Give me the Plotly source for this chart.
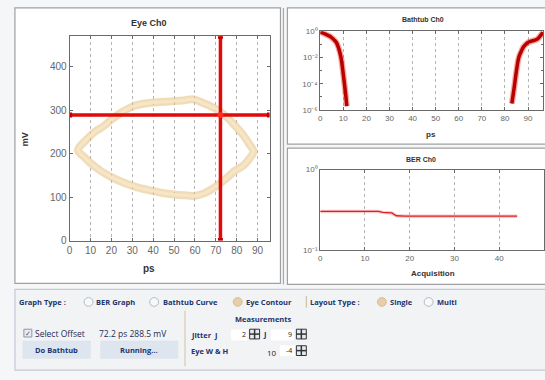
import plotly.graph_objects as go

# ---------------- data ----------------
# eye contour (closed loop: upper edge left->right, lower edge right->left)
eye_ps = [4, 8, 12, 16, 20, 25, 30, 36, 42, 48, 54, 59, 63, 67, 71, 75, 79, 83, 86, 88,
          86, 83, 79, 75, 71, 68, 64, 60, 55, 50, 44, 38, 32, 26, 20, 15, 10, 7, 4]
eye_mv = [208, 232, 250, 262, 278, 295, 308, 315, 318, 320, 322, 325, 318, 310, 300, 285, 265, 243, 222, 205,
          188, 172, 160, 143, 128, 118, 108, 103, 104, 106, 110, 116, 123, 133, 146, 160, 178, 192, 208]

offset_ps = 72.2
offset_mv = 288.5

# bathtub curve, left and right walls
tub_left_ps = [0, 1, 2, 3, 4, 5, 6, 7, 8, 9, 10, 11, 11.5]
tub_left_ber = [0.85, 0.76, 0.63, 0.52, 0.43, 0.32, 0.22, 0.14, 0.05, 0.01, 5e-4, 1.6e-5, 2e-6]
tub_right_ps = [83, 84, 85, 86, 87, 88, 89, 90, 91, 92, 93, 94, 95, 96.5]
tub_right_ber = [3.2e-6, 5e-5, 1e-3, 1e-2, 2.8e-2, 6.3e-2, 0.1, 0.14, 0.166, 0.19, 0.21, 0.25, 0.38, 0.83]

# BER per acquisition
acq = list(range(45))
ber = [0.303, 0.303, 0.303, 0.303, 0.303, 0.303, 0.303, 0.303, 0.303, 0.303,
       0.303, 0.303, 0.303, 0.303, 0.295, 0.295, 0.29, 0.268, 0.265, 0.265,
       0.265, 0.265, 0.265, 0.265, 0.265, 0.265, 0.265, 0.265, 0.265, 0.265,
       0.265, 0.265, 0.265, 0.265, 0.265, 0.265, 0.265, 0.265, 0.265, 0.265,
       0.265, 0.265, 0.265, 0.265, 0.265]

eye_xticks = [0, 10, 20, 30, 40, 50, 60, 70, 80, 90]
eye_yticks = [0, 100, 200, 300, 400]
tub_yticks = [1e-6, 1e-4, 1e-2, 1]
tub_ytext = ["10⁻⁶", "10⁻⁴", "10⁻²", "10⁰"]
ber_xticks = [0, 10, 20, 30, 40, 50]
ber_yticks = [0.1, 1]
ber_ytext = ["10⁻¹", "10⁰"]

# ---------------- layout helpers ----------------
W, H = 545, 380


def fx(p):
    return p / W


def fy(p):
    return 1 - p / H


FONT = "Liberation Sans, Arial, sans-serif"
UI_FONT = "Open Sans, sans-serif"
NAVY = "#22346a"
TICK = "#666666"

fig = go.Figure()

# eye contour: soft tan band with a lighter core
fig.add_trace(go.Scatter(x=eye_ps, y=eye_mv, mode="lines", xaxis="x", yaxis="y",
                         line=dict(color="rgba(230,192,130,0.55)", width=8, shape="spline"),
                         hoverinfo="skip"))
fig.add_trace(go.Scatter(x=eye_ps, y=eye_mv, mode="lines", xaxis="x", yaxis="y",
                         line=dict(color="rgba(247,230,198,0.95)", width=3, shape="spline"),
                         hoverinfo="skip"))
# offset crosshair
fig.add_trace(go.Scatter(x=[offset_ps, offset_ps], y=[0, 470], mode="lines+markers", xaxis="x", yaxis="y",
                         line=dict(color="#e00a0a", width=3.5), marker=dict(color="#c00000", size=5, symbol="square")))
fig.add_trace(go.Scatter(x=[0, 95.7], y=[offset_mv, offset_mv], mode="lines+markers", xaxis="x", yaxis="y",
                         line=dict(color="#e00a0a", width=3.5), marker=dict(color="#c00000", size=5, symbol="square")))
fig.add_trace(go.Scatter(x=[offset_ps], y=[offset_mv], mode="markers", xaxis="x", yaxis="y",
                         marker=dict(color="#ff2a2a", size=6)))

# bathtub walls
for xs, ys in ((tub_left_ps, tub_left_ber), (tub_right_ps, tub_right_ber)):
    fig.add_trace(go.Scatter(x=xs, y=ys, mode="lines", xaxis="x2", yaxis="y2",
                             line=dict(color="rgba(240,60,40,0.45)", width=6, shape="spline"),
                             hoverinfo="skip"))
    fig.add_trace(go.Scatter(x=xs, y=ys, mode="lines", xaxis="x2", yaxis="y2",
                             line=dict(color="#b80000", width=3.5, shape="spline")))

# BER history
fig.add_trace(go.Scatter(x=acq, y=ber, mode="lines", xaxis="x3", yaxis="y3",
                         line=dict(color="rgba(240,120,130,0.4)", width=3.5), hoverinfo="skip"))
fig.add_trace(go.Scatter(x=acq, y=ber, mode="lines", xaxis="x3", yaxis="y3",
                         line=dict(color="#e02020", width=1.3)))

axis_common = dict(showline=True, linecolor="#6a6a6a", linewidth=1, mirror="ticks",
                   ticks="inside", ticklen=3, tickcolor="#6a6a6a", zeroline=False, fixedrange=True)

fig.update_layout(
    width=W, height=H, autosize=False,
    margin=dict(l=0, r=0, t=0, b=0),
    paper_bgcolor="#f4f6f8", plot_bgcolor="white",
    showlegend=False,
    xaxis=dict(domain=[fx(67), fx(268)], range=[0, 95.7], tickvals=eye_xticks,
               showgrid=True, gridcolor="#b5b5b5", griddash="dot", gridwidth=1,
               tickfont=dict(family=FONT, size=10, color=TICK), anchor="y", **axis_common),
    yaxis=dict(domain=[fy(243), fy(33)], range=[0, 470], tickvals=eye_yticks, showgrid=False,
               tickfont=dict(family=FONT, size=10, color=TICK), anchor="x", **axis_common),
    xaxis2=dict(domain=[fx(319), fx(543)], range=[0, 96.5], tickvals=eye_xticks,
                showgrid=True, gridcolor="#b5b5b5", griddash="dot", gridwidth=1,
                tickfont=dict(family=FONT, size=8, color=TICK), anchor="y2", **axis_common),
    yaxis2=dict(domain=[fy(109), fy(28)], type="log", range=[-6, 0], tickvals=tub_yticks,
                ticktext=tub_ytext, showgrid=False,
                minor=dict(tickvals=[1e-5, 1e-3, 1e-1], ticks="inside", ticklen=2, tickcolor="#6a6a6a"),
                tickfont=dict(family=FONT, size=8, color=TICK), anchor="x2", **axis_common),
    xaxis3=dict(domain=[fx(319), fx(544)], range=[0, 50], tickvals=ber_xticks,
                showgrid=True, gridcolor="#b5b5b5", griddash="dot", gridwidth=1,
                tickfont=dict(family=FONT, size=8, color=TICK), anchor="y3", **axis_common),
    yaxis3=dict(domain=[fy(253), fy(170)], type="log", range=[-1, 0], tickvals=ber_yticks,
                ticktext=ber_ytext, showgrid=False,
                tickfont=dict(family=FONT, size=8, color=TICK), anchor="x3", **axis_common),
)

shapes = []
annotations = []


def rect(x0, y0, x1, y1, fill="rgba(0,0,0,0)", line="#a0a0a0", width=1.2, layer="below"):
    shapes.append(dict(type="rect", xref="paper", yref="paper", x0=fx(x0), x1=fx(x1), y0=fy(y1), y1=fy(y0),
                       fillcolor=fill, line=dict(color=line, width=width), layer=layer))


def line(x0, y0, x1, y1, color="#a0a0a0", width=1, layer="above"):
    shapes.append(dict(type="line", xref="paper", yref="paper", x0=fx(x0), x1=fx(x1), y0=fy(y0), y1=fy(y1),
                       line=dict(color=color, width=width), layer=layer))


def circle(cx, cy, r, fill, edge):
    shapes.append(dict(type="circle", xref="paper", yref="paper", x0=fx(cx - r), x1=fx(cx + r),
                       y0=fy(cy + r), y1=fy(cy - r), fillcolor=fill, line=dict(color=edge, width=1),
                       layer="above"))


def text(x, y, s, size=8, color=NAVY, bold=True, xanchor="left", family=UI_FONT, angle=0):
    # annotations carry a few px of padding; shift left-anchored labels to compensate
    if xanchor == "left":
        x -= 3
    annotations.append(dict(xref="paper", yref="paper", x=fx(x), y=fy(y), text=f"<b>{s}</b>" if bold else s,
                            showarrow=False, xanchor=xanchor, yanchor="middle", textangle=angle,
                            font=dict(family=family, size=size, color=color)))


def spinner(x, y):
    rect(x, y - 5, x + 10, y + 5, fill="#e6ebf2", line="#333333", width=1, layer="above")
    line(x + 5, y - 5, x + 5, y + 5, color="#333333", width=1.5)
    line(x, y, x + 10, y, color="#333333", width=1.5)


# chart panels
rect(12, 4, 279, 287, fill="white")
line(282, 4, 282, 288, color="#a8a8a8", width=1.2)
rect(286, 4, 549, 144, fill="white")
rect(286, 148, 549, 288, fill="white")

# chart titles and axis labels
text(147, 19, "Eye Ch0", size=9, color="#333333", xanchor="center", family=FONT)
text(22, 139, "mV", size=9, color="#333333", xanchor="center", family=FONT, angle=-90)
text(147, 272, "ps", size=10, color="#333333", xanchor="center", family=FONT)
text(422, 16, "Bathtub Ch0", size=7, color="#333333", xanchor="center", family=FONT)
text(430, 134, "ps", size=8, color="#333333", xanchor="center", family=FONT)
text(420, 160, "BER Ch0", size=7, color="#333333", xanchor="center", family=FONT)
text(432, 277, "Acquisition", size=8, color="#333333", xanchor="center", family=FONT)

# control panel
rect(12, 293, 549, 376, fill="#f2f3f5", line="#c3cad4", width=1.2)
row1 = 306
text(17, row1, "Graph Type :", size=7.5)
circle(86, row1, 4.5, "#f7f8fa", "#b4bcc8")
text(95, row1, "BER Graph", size=7.5)
circle(152, row1, 4.5, "#f7f8fa", "#b4bcc8")
text(162, row1, "Bathtub Curve", size=7.5)
circle(236, row1, 4.5, "#e6cfa8", "#d6bf98")
text(245, row1, "Eye Contour", size=7.5)
line(305, row1 - 6, 305, row1 + 6, color="#c8b89a", width=1)
text(310, row1, "Layout Type :", size=7.5)
circle(381, row1, 4.5, "#e6cfa8", "#d6bf98")
text(390, row1, "Single", size=7.5)
circle(428, row1, 4.5, "#f7f8fa", "#b4bcc8")
text(437, row1, "Multi", size=7.5)

# offset selection
rect(21, 334, 29, 342, fill="#e8ecf2", line="#8b96a6", width=1, layer="above")
text(25, 338, "✓", size=7, color="#4a5a7a", xanchor="center", bold=False)
text(33, 338, "Select Offset", size=8.5, bold=False, color="#1f2c55")
text(98, 338, f"{offset_ps} ps {offset_mv} mV", size=8.5, bold=False, color="#1f2c55")
rect(20, 346, 88, 364, fill="#dde5ef", line="#dde5ef", width=0.5)
text(54, 355, "Do Bathtub", size=7.5, xanchor="center")
rect(98, 346, 176, 364, fill="#dde5ef", line="#dde5ef", width=0.5)
text(137, 355, "Running...", size=7.5, xanchor="center")
line(183, 315, 183, 372, color="#d0c3a8", width=1)

# measurements group
text(262, 324, "Measurements", size=7.5, xanchor="center")
text(190, 340, "Jitter  J", size=7.5)
rect(229, 334, 246, 346, fill="white", line="#eeeeee", width=0.5, layer="above")
text(246, 339, "2", size=7, xanchor="right", bold=False, color="#222222")
spinner(248, 339)
text(262, 339, "J", size=7.5)
rect(269, 334, 293, 346, fill="white", line="#eeeeee", width=0.5, layer="above")
text(293, 339, "9", size=7, xanchor="right", bold=False, color="#222222")
spinner(295, 339)
text(190, 356, "Eye W & H", size=7.5)
text(270, 358, "10", size=8, xanchor="center", bold=False, color="#222222")
rect(278, 350, 294, 362, fill="white", line="#eeeeee", width=0.5, layer="above")
text(293, 356, "-4", size=7, xanchor="right", bold=False, color="#222222")
spinner(295, 356)

fig.update_layout(shapes=shapes, annotations=annotations)
fig.write_html("out.html")
